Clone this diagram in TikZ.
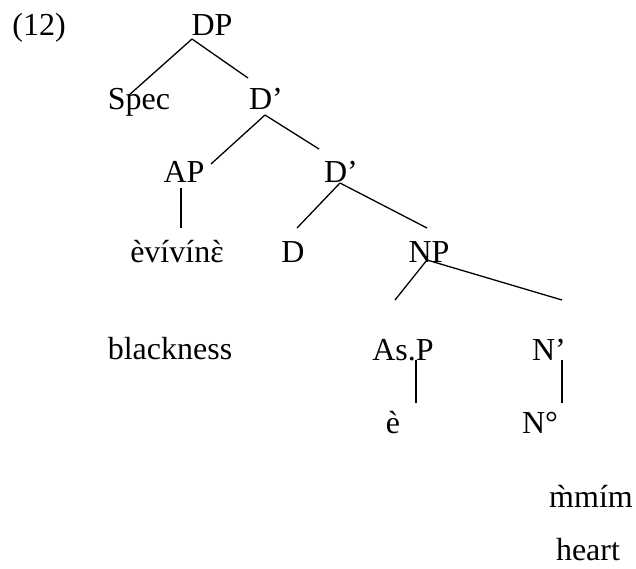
\documentclass[tikz,border=0pt]{standalone}
\usepackage{fontspec}
\setmainfont{Liberation Serif}
\newfontfamily\gravefont{Liberation Serif}
\newcommand\grv[1]{{\gravefont\accent"60 #1}}
\usepackage{tikz}

\begin{document}
\begin{tikzpicture}[x=0.5pt, y=-0.5pt, line width=0.65pt]

	\tikzstyle{lab}=[inner sep=0pt, anchor=base, font=\fontsize{16}{19}\selectfont]
	\useasboundingbox (0,0) rectangle (636,568);
	\node[lab] (ex) at (39,35) {(12)};
	\node[lab] (DP) at (212,35) {DP};
	\node[lab] (Spec) at (139,109) {Spec};
	\node[lab] (Dbar) at (266,109) {D’};
	\node[lab] (AP) at (184,182) {AP};
	\node[lab] (Dbarb) at (341,182) {D’};
	\node[lab] (evi) at (177,262) {èvívín\grv{ɛ}};
	\node[lab] (D) at (293,262) {D};
	\node[lab] (NP) at (429,262) {NP};
	\node[lab] (gloss) at (170,359) {blackness};
	\node[lab] (AsP) at (403,360) {As.P};
	\node[lab] (Nbar) at (549,360) {N’};
	\node[lab] (e) at (393,433) {è};
	\node[lab] (N) at (540,433) {N°};
	\node[lab] (mmim) at (591,507) {\grv{m}mím};
	\node[lab] (heart) at (588,560) {heart};

	% From DP
	\draw ([shift={(-20,4)}]DP.base) -- ([shift={(-11,-13)}]Spec.base);
	\draw ([shift={(-20,4)}]DP.base) -- ([shift={(-18,-31)}]Dbar.base);
	% From D'
	\draw ([shift={(-1,6)}]Dbar.base) -- ([shift={(27,-18)}]AP.base);
	\draw ([shift={(-1,6)}]Dbar.base) -- ([shift={(-22,-33)}]Dbarb.base);
	\draw ([shift={(-3,6)}]AP.base) -- ([shift={(4,-34)}]evi.base);
	% From the lower D'
	\draw ([shift={(-1,1)}]Dbarb.base) -- ([shift={(4,-34)}]D.base);
	\draw ([shift={(-1,1)}]Dbarb.base) -- ([shift={(-2,-34)}]NP.base);
	% From NP
	\draw ([shift={(-2,-2)}]NP.base) -- ([shift={(-8,-60)}]AsP.base);
	\draw ([shift={(-2,-2)}]NP.base) -- ([shift={(13,-60)}]Nbar.base);
	\draw ([shift={(13,0)}]AsP.base) -- ([shift={(23,-30)}]e.base);
	\draw ([shift={(13,0)}]Nbar.base) -- ([shift={(22,-30)}]N.base);

\end{tikzpicture}
\end{document}
